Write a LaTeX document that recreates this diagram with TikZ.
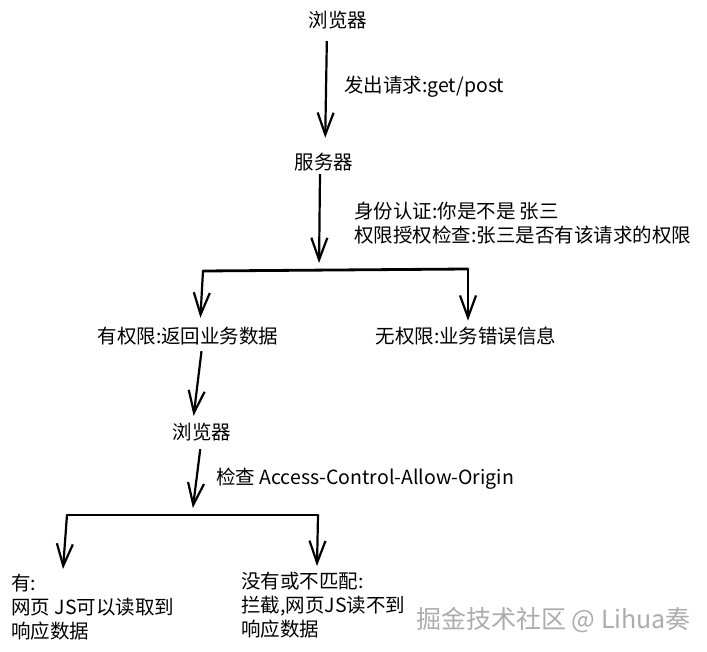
\documentclass[tikz,border=0pt]{standalone}
\usepackage{fontspec}
\newfontfamily\cjkfont{Noto Sans CJK SC}
\usetikzlibrary{arrows.meta}

\begin{document}
\begin{tikzpicture}
[x=1pt,y=-1pt,
  flowArrow/.style={-{Straight Barb[length=22pt,width=16pt]},line width=2.2pt},%
  splitBar/.style={line width=2.8pt,line cap=round},%
  textNode/.style={font=\cjkfont\fontsize{19.5}{24}\selectfont,inner sep=2pt},%
  noteNode/.style={textNode,align=left,anchor=west}]
\useasboundingbox (0,0) rectangle (707,652);
%% nodes
\node (browserA) at (338,20) [textNode] {浏览器};
\node (server) at (324,162) [textNode] {服务器};
\node (allowed) at (188,336) [textNode] {有权限:返回业务数据};
\node (denied) at (466,336) [textNode] {无权限:业务错误信息};
\node (browserB) at (202,432) [textNode] {浏览器};
\node (request) at (342,87) [noteNode] {发出请求:get/post};
\node (auth) at (352,223) [noteNode] {身份认证:你是不是 张三\\权限授权检查:张三是否有该请求的权限};
\node (check) at (214,479) [noteNode] {检查 Access-Control-Allow-Origin};
\node (yes) at (9,607) [noteNode] {有:\\网页 JS可以读取到\\响应数据};
\node (no) at (239,605) [noteNode] {没有或不匹配:\\拦截,网页JS读不到\\响应数据};
\node (mark) at (414,620) [noteNode,font=\cjkfont\fontsize{25}{30}\selectfont,text=gray!65] {掘金技术社区 @ Lihua奏};
%% forks
\coordinate (fork1) at (319,270);
\coordinate (fork1L) at (203,271);
\coordinate (fork1R) at (468,269);
\coordinate (fork2) at (192,515);
\coordinate (fork2L) at (67,515);
\coordinate (fork2R) at (318,515);
\coordinate (yesTip) at (63,569);
\coordinate (noTip) at (317,566);
\draw[splitBar] (fork1L) -- (fork1R);
\draw[splitBar] (fork2L) -- (fork2R);
%% arrows
\draw[flowArrow,shorten <=10pt,shorten >=13pt] ([xshift=-11pt]browserA.south) -- ([xshift=1pt]server.north);
\draw[flowArrow,shorten <=1pt,shorten >=7pt] ([xshift=-4pt]server.south) -- (fork1);
\draw[flowArrow,shorten >=7pt] (fork1L) -- ([xshift=12pt]allowed.north);
\draw[flowArrow,shorten >=4pt] (fork1R) -- ([xshift=2pt]denied.north);
\draw[flowArrow,shorten <=4pt,shorten >=5pt] ([xshift=14pt]allowed.south) -- ([xshift=-9pt]browserB.north);
\draw[flowArrow,shorten <=6pt,shorten >=7pt] ([xshift=-1pt]browserB.south) -- (fork2);
\draw[flowArrow] (fork2L) -- (yesTip);
\draw[flowArrow] (fork2R) -- (noTip);
\end{tikzpicture}
\end{document}
